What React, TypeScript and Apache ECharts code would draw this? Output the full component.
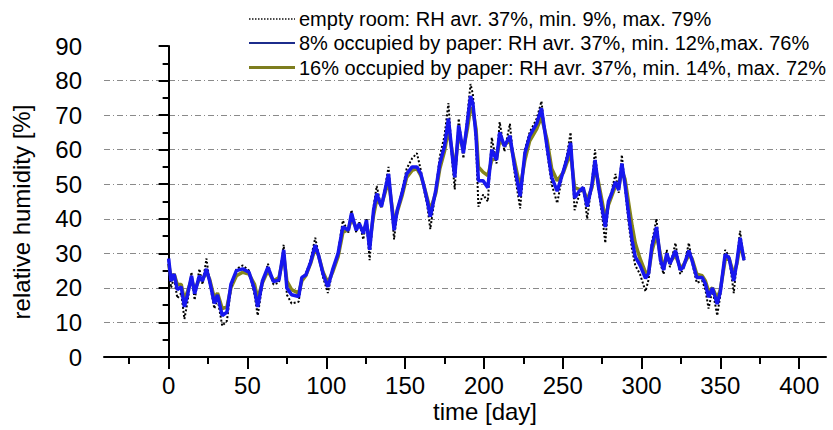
import React, { useEffect, useRef } from "react";
import * as echarts from "echarts";

const FONT = "'Liberation Sans', Arial, sans-serif";

const days = [
  0, 1.5, 3.5, 5.5, 8, 10, 12, 14.5, 16.5, 19.5, 21.5, 24, 26, 29, 31, 34, 37, 39.5, 43, 47,
  51, 54.5, 56.5, 59.5, 63, 66.5, 70, 73, 75, 78, 82.5, 84.5, 87, 90, 93, 95, 98, 101, 104, 107.5,
  110.5, 114, 116, 119, 121, 123.5, 125.5, 127.5, 130, 132, 135, 139.5, 143, 145, 148, 151, 154.5, 157.5, 160, 162,
  164, 166, 169.5, 172, 175, 177.5, 180, 181.5, 184, 187, 189.5, 191.5, 193, 195, 196.5, 199.5, 202.5, 205, 208, 210,
  213, 216.5, 219.5, 223, 226, 229, 233.5, 236.5, 240, 243, 246.5, 250.5, 252.5, 255, 257.5, 260.5, 263, 265.5, 268.5, 270.5,
  272.5, 275, 277, 279, 281, 283.5, 285.5, 287.5, 289.5, 292, 294, 296, 299, 302.5, 304.5, 306.5, 309.5, 312, 314, 316,
  318, 321.5, 324.5, 326.5, 330, 332, 335, 338.5, 340.5, 342.5, 345, 348, 350, 353, 355.5, 358.5, 360.5, 362.5, 365,
];

const paper8 = [
  28.5, 22, 24, 19.5, 20.3, 14.5, 18, 23.5, 18.3, 23.5, 22, 25.5, 22, 15.5, 18, 12, 13, 21, 25, 25.5,
  24.5, 19.5, 14.5, 22, 26, 21.8, 22.3, 31, 20, 18, 17.5, 23, 23.7, 27.3, 32.4, 29.6, 24, 20.3, 25.2, 30,
  37.7, 36.7, 41.6, 36.7, 38.6, 35.8, 39.6, 31, 42.5, 47.3, 43.5, 53, 36.7, 42.5, 47.3, 53, 55, 55, 53, 49.3,
  45.4, 40.6, 48.3, 56, 61, 69, 58, 52, 67, 59, 68, 75.5, 73.4, 64, 51, 51, 49, 60, 57, 65,
  61, 64, 55, 46.5, 59, 64, 67.6, 72, 61, 52, 48, 54, 57, 62, 46, 48, 49, 43.5, 49.8, 57,
  49.8, 43, 37.6, 45, 47.3, 50.7, 48.3, 56, 50, 40.5, 33.8, 29, 26.6, 22.8, 24.2, 31.9, 37.6, 28, 25.2, 30,
  27, 30.8, 25.2, 26, 30.8, 28, 23, 23, 21.2, 17.3, 20, 15.3, 19, 29.7, 28.7, 22, 27.7, 34.5, 28,
];

const emptyRoom = [
  28, 20, 23, 17, 18.5, 11, 16, 24.5, 16.5, 25.5, 21, 28.5, 21.5, 14, 17, 9, 10.5, 20, 25.5, 26.5,
  25, 18, 12, 21, 27, 21, 21.5, 32.5, 18, 15.5, 16, 23, 24, 28, 34.5, 30, 23, 18.5, 25, 30.5,
  39.5, 36, 42.5, 36, 39, 34, 40, 28, 43.5, 49.5, 43, 55, 34, 42, 48, 54.5, 57.5, 59, 54, 48.5,
  44, 37, 48.5, 58, 64, 73.5, 56, 48.5, 69, 57.5, 70, 79, 76, 62, 43.5, 47, 45, 63.5, 56, 68,
  59.5, 67.5, 53, 43, 60, 65, 69, 74, 59.5, 50, 44.5, 54.5, 58, 65, 42.5, 47, 49.5, 40, 50.5, 60,
  49, 41, 33, 45, 48, 53, 47.5, 58.5, 49, 38, 31, 26.5, 24, 19, 22.5, 33, 40, 27, 24, 31,
  26, 33, 24, 25.5, 33, 27.5, 21.5, 22, 19.5, 14, 19.5, 12, 18, 31, 29, 18.5, 28, 36.5, 27.5,
];

const paper16 = [
  27, 23, 24, 21, 21, 16.5, 19, 22.5, 19.5, 22.5, 22.5, 24.5, 22.5, 17, 18.5, 14, 14.5, 20, 23.5, 24.5,
  24, 21, 17, 21.5, 25, 22, 23, 29.5, 22, 19.5, 18.5, 22, 23.5, 27, 31.5, 29.5, 24.5, 21.5, 24.5, 29,
  36, 37, 40, 37.5, 38, 36.5, 38.5, 33, 41, 45.5, 44, 51, 39, 42, 46.5, 52, 54, 54.5, 52.5, 49.5,
  46, 42.5, 47.5, 54.5, 59.5, 66, 59, 54, 64.5, 60, 66, 72, 71.5, 66, 55, 53.5, 52.5, 57, 57.5, 62.5,
  61.5, 62.5, 56.5, 49, 57, 62.5, 66, 69.5, 63, 54.5, 51, 53.5, 56, 59, 49, 48.5, 48.5, 45.5, 49, 55,
  51, 45, 40, 44, 46.5, 49.5, 49, 54, 51.5, 44, 38, 33, 28.5, 24.5, 24.5, 30.5, 35.5, 29.5, 26, 29,
  27.5, 29.5, 26, 26.5, 29.5, 28.5, 24, 23.5, 22, 19, 20, 17, 19.5, 28, 28.5, 24, 27, 32.5, 28.5,
];

const xMajorTicks = [0, 50, 100, 150, 200, 250, 300, 350, 400];
const xMinorTicks = [-25, 25, 75, 125, 175, 225, 275, 325, 375];

const names = [
  "empty room: RH avr. 37%, min. 9%, max. 79%",
  "8% occupied by paper: RH avr. 37%, min. 12%,max. 76%",
  "16% occupied by paper: RH avr. 37%, min. 14%, max. 72%",
];

const legendStyles = [
  { stroke: "#111", lineWidth: 1.5, lineDash: [1.5, 1.5] },
  { stroke: "#1c2c8c", lineWidth: 2, lineDash: null },
  { stroke: "#7d7d1e", lineWidth: 3, lineDash: null },
];
const legendRows = [19, 43, 67.5];

const pairs = (vals: number[]) => days.map((d, i) => [d, vals[i]]);

export default function App() {
  const ref = useRef<HTMLDivElement>(null);
  useEffect(() => {
    const chart = echarts.init(ref.current!, null, { renderer: "svg" });
    const legendGraphics: any[] = [];
    names.forEach((n, i) => {
      legendGraphics.push({
        type: "line",
        shape: { x1: 249, y1: legendRows[i], x2: 295, y2: legendRows[i] },
        style: { ...legendStyles[i], fill: null },
      });
      legendGraphics.push({
        type: "text",
        x: 299,
        y: legendRows[i],
        style: { text: n, fontSize: 20, fill: "#000", fontFamily: FONT, verticalAlign: "middle", align: "left" },
      });
    });
    chart.setOption({
      animation: false,
      backgroundColor: "#fff",
      textStyle: { fontFamily: FONT },
      grid: { left: 104, right: 7, top: 46, bottom: 73, containLabel: false },
      xAxis: [
        {
          type: "value",
          min: -41,
          max: 417,
          axisLine: { show: true, lineStyle: { color: "#000", width: 2 } },
          axisTick: { show: true, customValues: xMajorTicks, length: 12, lineStyle: { color: "#000", width: 2 } },
          axisLabel: { customValues: xMajorTicks, fontSize: 24, color: "#000", margin: 16, fontFamily: FONT },
          splitLine: { show: false },
        },
        {
          type: "value",
          min: -41,
          max: 417,
          position: "bottom",
          axisLine: { show: false },
          axisTick: { show: true, customValues: xMinorTicks, length: 7, lineStyle: { color: "#000", width: 2 } },
          axisLabel: { show: false },
          splitLine: { show: false },
        },
      ],
      yAxis: {
        type: "value",
        min: 0,
        max: 90,
        interval: 10,
        axisLine: { show: true, lineStyle: { color: "#000", width: 2 } },
        axisTick: { show: true, length: 10, lineStyle: { color: "#000", width: 2 } },
        minorTick: { show: true, splitNumber: 2, length: 6, lineStyle: { color: "#000", width: 2 } },
        axisLabel: { fontSize: 24, color: "#000", margin: 22, fontFamily: FONT },
        splitLine: {
          show: true,
          showMinLine: false,
          showMaxLine: false,
          lineStyle: { color: "#8a8a8a", width: 1, type: [6, 3, 1, 3] },
        },
      },
      graphic: [
        ...legendGraphics,
        {
          type: "text",
          left: 433,
          top: 399,
          style: { text: "time [day]", fontSize: 24, fill: "#000", fontFamily: FONT },
        },
        {
          type: "text",
          x: 21,
          y: 212,
          rotation: Math.PI / 2,
          style: {
            text: "relative humidity [%]",
            fontSize: 24,
            fill: "#000",
            fontFamily: FONT,
            align: "center",
            verticalAlign: "middle",
          },
        },
      ],
      series: [
        {
          name: names[2],
          type: "line",
          data: pairs(paper16),
          symbol: "none",
          z: 1,
          lineStyle: { color: "#858519", width: 3.5 },
        },
        {
          name: names[0],
          type: "line",
          data: pairs(emptyRoom),
          symbol: "none",
          z: 2,
          lineStyle: { color: "#000", width: 2, type: "dotted" },
        },
        {
          name: names[1],
          type: "line",
          data: pairs(paper8),
          symbol: "none",
          z: 3,
          lineStyle: { color: "#1717ee", width: 3.5 },
        },
      ],
    });
    return () => chart.dispose();
  }, []);
  return <div ref={ref} style={{ position: "fixed", left: 0, top: 0, width: 833, height: 430 }} />;
}
